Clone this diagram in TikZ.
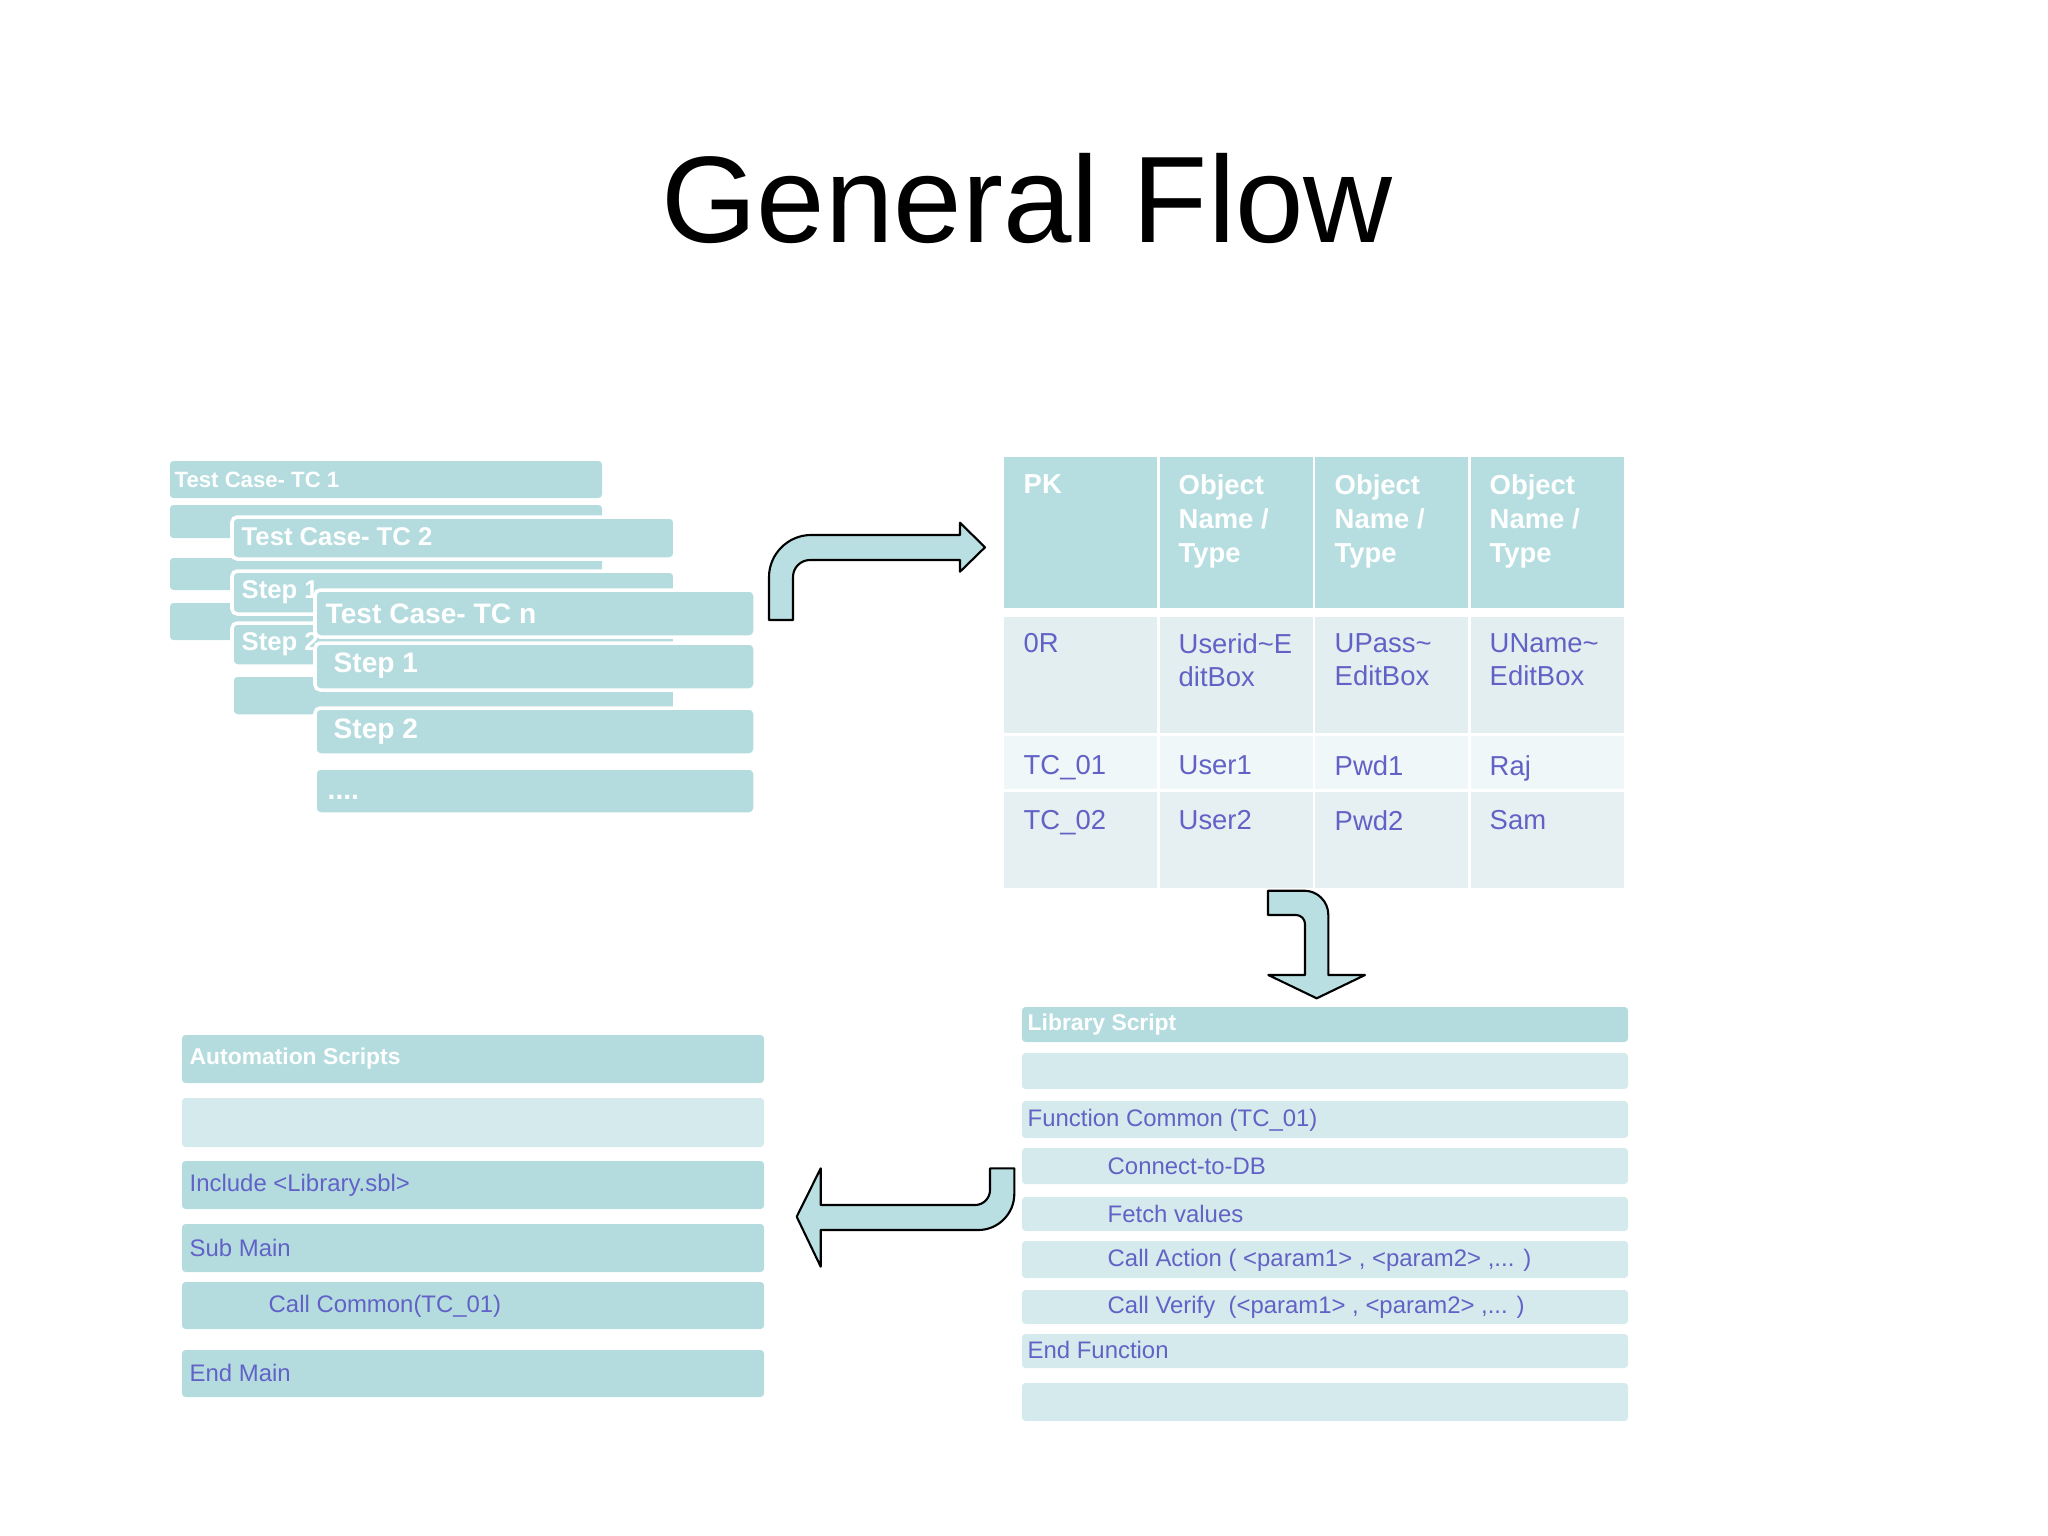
\documentclass[tikz,border=0pt]{standalone}
\usepackage{fontspec}
\setmainfont{Liberation Sans}

\definecolor{barteal}{HTML}{B4DCDF}
\definecolor{barpale}{HTML}{D5EAEC}
\definecolor{headteal}{HTML}{B6DEE1}
\definecolor{rowgrey}{HTML}{E3EEF0}
\definecolor{rowlight}{HTML}{F0F7F8}
\definecolor{rowmid}{HTML}{E6F0F2}
\definecolor{codeblue}{HTML}{6262C6}
\definecolor{arrowfill}{HTML}{B9DFE2}

\tikzset{
  bar/.style={fill=barteal, rounded corners=1pt},
  palebar/.style={fill=barpale, rounded corners=1pt},
  cardbar/.style={fill=barteal, draw=white, line width=1pt, rounded corners=1.5pt},
  whitelabel/.style={text=white, font=\bfseries\fontsize{#1}{#1}\selectfont, anchor=west, inner sep=0pt},
  whitelabel/.default=6.8,
  codelabel/.style={text=codeblue, font=\fontsize{6.8}{8}\selectfont, anchor=west, inner sep=0pt},
  headcell/.style={text=white, font=\bfseries\fontsize{7.8}{9.6}\selectfont, align=left, anchor=north west, inner sep=0pt},
  bodycell/.style={text=codeblue, font=\fontsize{7.8}{9.4}\selectfont, align=left, anchor=north west, inner sep=0pt},
  bentarrow/.style={fill=arrowfill, draw=black, line width=0.6pt, line join=round}
}

\begin{document}
\begin{tikzpicture}[x=0.01cm, y=-0.01cm]
\useasboundingbox (0,0) rectangle (2048,1536);

\node[font=\fontsize{35}{40}\selectfont, anchor=base] (title) at (1027,242) {General Flow};

% test case cards
\fill[bar] (170,461) rectangle (602,498);
\fill[bar] (170,505) rectangle (602,538);
\fill[bar] (170,558) rectangle (602,590);
\fill[bar] (170,603) rectangle (602,640);
\node[whitelabel=6.3] (tcone) at (174,480) {Test Case- TC 1};

\foreach \top/\bot in {517/559, 571/614, 623/666, 675/716}
  \draw[cardbar] (232,\top) rectangle (675,\bot);
\node[whitelabel=7.3] (tctwo) at (241,537) {Test Case- TC 2};
\node[whitelabel=7.3] (tctwostepa) at (241,592) {Step 1};
\node[whitelabel=7.3] (tctwostepb) at (241,644) {Step 2};

\foreach \top/\bot in {590/637, 643/690, 708/755, 768/814}
  \draw[cardbar] (315,\top) rectangle (755,\bot);
\node[whitelabel=8] (tcn) at (325,614) {Test Case- TC n};
\node[whitelabel=8] (tcnstepa) at (333,666) {Step 1};
\node[whitelabel=8] (tcnstepb) at (333,732) {Step 2};
\node[whitelabel=8, anchor=base west] (tcndots) at (327,799) {....};

% object table
\foreach \x in {1004,1159.5,1315,1470.5} {
  \fill[headteal] (\x,457) rectangle ++(153,151);
  \fill[rowgrey] (\x,617) rectangle ++(153,116);
  \fill[rowlight] (\x,736) rectangle ++(153,53);
  \fill[rowmid] (\x,792) rectangle ++(153,96);
}
\node[headcell] (pk) at (1023,474) {PK};
\node[headcell] (objone) at (1178,474) {Object\\Name /\\Type};
\node[headcell] (objtwo) at (1334,474) {Object\\Name /\\Type};
\node[headcell] (objthree) at (1489,474) {Object\\Name /\\Type};

\node[bodycell] (orkey) at (1023,633) {0R};
\node[bodycell] (oruser) at (1178,633) {Userid\textasciitilde E\\ditBox};
\node[bodycell] (orpass) at (1334,633) {UPass\textasciitilde\\EditBox};
\node[bodycell] (orname) at (1489,633) {UName\textasciitilde\\EditBox};

\node[bodycell] (tcakey) at (1023,755) {TC\_01};
\node[bodycell] (tcauser) at (1178,755) {User1};
\node[bodycell] (tcapass) at (1334,755) {Pwd1};
\node[bodycell] (tcaname) at (1489,755) {Raj};

\node[bodycell] (tcbkey) at (1023,810) {TC\_02};
\node[bodycell] (tcbuser) at (1178,810) {User2};
\node[bodycell] (tcbpass) at (1334,810) {Pwd2};
\node[bodycell] (tcbname) at (1489,810) {Sam};

% library script
\fill[bar] (1022,1007) rectangle (1628,1042);
\foreach \top/\bot in {1053/1089, 1101/1138, 1148/1184, 1197/1231, 1241/1278, 1290/1324, 1334/1368, 1383/1421}
  \fill[palebar] (1022,\top) rectangle (1628,\bot);
\node[whitelabel=6.5] (libhead) at (1027,1025) {Library Script};
\node[codelabel] (libfunc) at (1027,1120) {Function Common (TC\_01)};
\node[codelabel] (libconnect) at (1107,1166) {Connect-to-DB};
\node[codelabel] (libfetch) at (1107,1214) {Fetch values};
\node[codelabel] (libaction) at (1107,1260) {Call Action ( <param1> , <param2> ,... )};
\node[codelabel] (libverify) at (1107,1307) {Call Verify\ \ (<param1> , <param2> ,... )};
\node[codelabel] (libend) at (1027,1350) {End Function};

% automation scripts
\fill[bar] (182,1035) rectangle (764,1083);
\fill[palebar] (182,1098) rectangle (764,1147);
\foreach \top/\bot in {1161/1209, 1224/1272, 1282/1329, 1350/1397}
  \fill[bar] (182,\top) rectangle (764,\bot);
\node[whitelabel=6.5] (autohead) at (189,1059) {Automation Scripts};
\node[codelabel] (autoinclude) at (189,1185) {Include <Library.sbl>};
\node[codelabel] (autosub) at (189,1248) {Sub Main};
\node[codelabel] (autocall) at (268,1306) {Call Common(TC\_01)};
\node[codelabel] (autoend) at (189,1373) {End Main};

% bent arrows
\draw[bentarrow] (769,620) -- (769,577) .. controls (769,554) and (788,535) .. (811,535)
  -- (960,535) -- (960,522.7) -- (985,547.3) -- (960,571.7) -- (960,560) -- (810,560)
  .. controls (800.6,560) and (793,567.6) .. (793,577) -- (793,620) -- cycle;

\draw[bentarrow] (1268,890.7) -- (1304.3,890.7) .. controls (1317.5,890.7) and (1328.3,901.5) .. (1328.3,914.7)
  -- (1328.3,975) -- (1365,975) -- (1316.7,998.3) -- (1268.3,975) -- (1305,975) -- (1305,924)
  .. controls (1305,919) and (1301,915) .. (1296,915) -- (1268,915) -- cycle;

\draw[bentarrow] (990,1168.3) -- (1014.3,1168.3) -- (1014.3,1194) .. controls (1014.3,1213.8) and (998.1,1230) .. (978.3,1230)
  -- (820.7,1230) -- (820.7,1266.7) -- (796.7,1216.7) -- (820.7,1168.3) -- (820.7,1205) -- (975,1205)
  .. controls (983.3,1205) and (990,1198.3) .. (990,1190) -- cycle;

\end{tikzpicture}
\end{document}
